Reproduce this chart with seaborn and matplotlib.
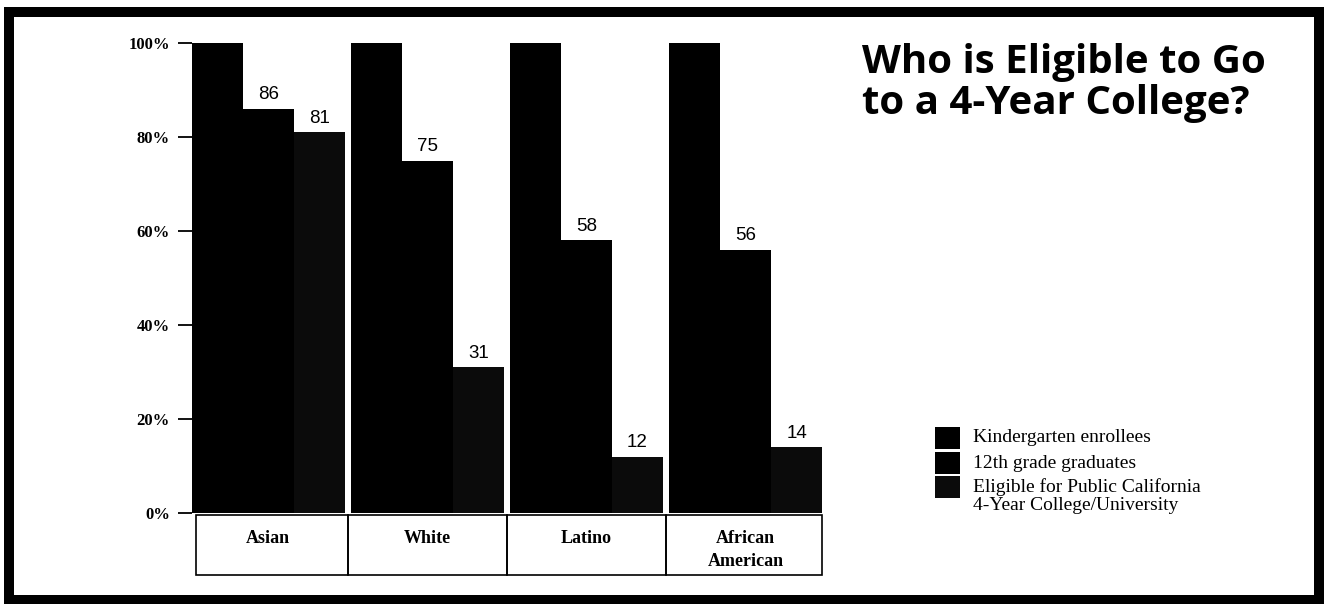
import matplotlib
matplotlib.use("Agg")
import matplotlib.pyplot as plt
import matplotlib.transforms as mtransforms
from matplotlib.patches import Rectangle
import pandas as pd
import seaborn as sns

# Chart data
groups = ["Asian", "White", "Latino", "African\nAmerican"]
series = [
    "Kindergarten enrollees",
    "12th grade graduates",
    "Eligible for Public California\n4-Year College/University",
]
kindergarten = [100, 100, 100, 100]
graduates = [86, 75, 58, 56]
eligible = [81, 31, 12, 14]
yticks = [0, 20, 40, 60, 80, 100]
ytick_labels = ["0%", "20%", "40%", "60%", "80%", "100%"]
colors = ["#000000", "#000000", "#0b0b0b"]

rows = []
for values, name in zip([kindergarten, graduates, eligible], series):
    for g, v in zip(groups, values):
        rows.append({"group": g, "series": name, "value": v})
df = pd.DataFrame(rows)

sns.set_theme(style="white")
plt.rcParams["font.family"] = ["Liberation Serif", "DejaVu Serif"]
plt.rcParams["text.color"] = "black"
plt.rcParams["xtick.color"] = "black"
plt.rcParams["ytick.color"] = "black"

fig = plt.figure(figsize=(13.24, 6.04), dpi=100)
ax = fig.add_axes([192 / 1324, 91 / 604, 630 / 1324, 470 / 604])

sns.barplot(data=df, x="group", y="value", hue="series", order=groups,
            hue_order=series, palette=colors, width=0.962, gap=0,
            saturation=1, linewidth=0, legend=False, ax=ax)

ax.set_xlim(-0.48, 3.48)
ax.set_ylim(0, 100)
ax.set_xlabel("")
ax.set_ylabel("")
for s in ax.spines.values():
    s.set_visible(False)

ax.set_yticks(yticks)
ax.set_yticklabels(ytick_labels, fontsize=12, fontweight="bold")
ax.tick_params(axis="y", length=10, width=1.3, pad=6, left=True,
               direction="out", color="black", labelcolor="black")
ax.set_xticks(range(len(groups)))
ax.set_xticklabels(groups, fontsize=13, fontweight="bold", linespacing=1.45)
ax.tick_params(axis="x", length=0, pad=12, bottom=False, labelcolor="black")

# value labels on the graduates and eligible bars
for cont in ax.containers[1:]:
    ax.bar_label(cont, fmt="%d", padding=4, fontsize=13.5, color="black",
                 family=["Liberation Sans", "DejaVu Sans"])

# label boxes under the bars
trans = mtransforms.blended_transform_factory(ax.transData, ax.transAxes)
box_h = 60 / 470
edges = [-0.455, 0.5, 1.5, 2.5, 3.48]
for x0, x1 in zip(edges[:-1], edges[1:]):
    ax.add_patch(Rectangle((x0, -box_h - 0.004), x1 - x0, box_h, transform=trans,
                           fill=False, edgecolor="black", lw=1.2, clip_on=False))

# title
fig.text(862 / 1324, 1 - 43 / 604, "Who is Eligible to Go\nto a 4-Year College?",
         family=["Open Sans", "DejaVu Sans"], fontweight="bold", fontsize=29,
         va="top", ha="left", linespacing=1.07, color="black")

# legend
leg_x = 935 / 1324
sq_w = 25 / 1324
sq_h = 22 / 604
row_y = [438, 463, 487]
for y, c, name in zip(row_y, colors, series):
    fig.patches.append(Rectangle((leg_x, 1 - (y + 11) / 604), sq_w, sq_h,
                                 transform=fig.transFigure, facecolor=c,
                                 edgecolor="none"))
    first, *rest = name.split("\n")
    fig.text(973 / 1324, 1 - y / 604, first, fontsize=14, va="center",
             ha="left", color="black")
    for k, line in enumerate(rest, start=1):
        fig.text(973 / 1324, 1 - (y + 19 * k) / 604, line, fontsize=14,
                 va="center", ha="left", color="black")

# outer frame
fig.patches.append(Rectangle((9 / 1324, 4 / 604), 1310 / 1324, 588 / 604,
                             transform=fig.transFigure, fill=False,
                             edgecolor="black", lw=7.2))

fig.savefig("out.png", dpi=100, facecolor="white")
